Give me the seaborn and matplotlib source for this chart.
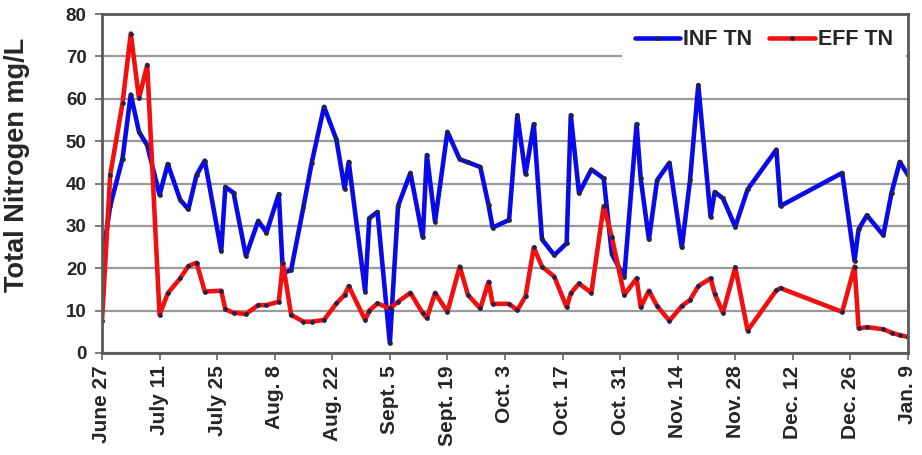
"""Total nitrogen, influent vs effluent, June 27 - Jan 9."""

import pandas as pd
import matplotlib
matplotlib.use("Agg")
import matplotlib.pyplot as plt
import seaborn as sns

sns.set_style("white")
plt.rcParams.update({
    'font.family': ['Liberation Sans', 'DejaVu Sans'],
    'font.weight': 'bold',
})

# days since June 27
days = [0, 2, 5, 7, 9, 11, 14, 16, 19, 21, 23, 25, 29, 30, 32, 35, 38, 40,
        43, 44, 46, 49, 51, 54, 57, 59, 60, 64, 65, 67, 70, 72, 75, 78, 79,
        81, 84, 87, 89, 92, 94, 95, 99, 101, 103, 105, 107, 110, 113, 114,
        116, 119, 122, 124, 127, 130, 131, 133, 135, 138, 141, 143, 145, 148,
        149, 151, 154, 157, 164, 165, 180, 183, 184, 186, 190, 192, 194, 196]

inf_tn = [21.5, 34.7, 45.9, 61.0, 52.2, 49.0, 37.3, 44.6, 36.2, 33.9, 42.0,
          45.4, 24.1, 39.2, 37.8, 22.9, 31.2, 28.4, 37.5, 18.8, 19.6, 34.5,
          44.9, 58.1, 50.4, 38.8, 45.1, 14.5, 31.8, 33.3, 2.3, 34.7, 42.5,
          27.3, 46.7, 31.0, 52.2, 45.7, 45.0, 43.9, 34.9, 29.6, 31.4, 56.1,
          42.2, 54.0, 26.8, 23.1, 25.9, 56.1, 37.7, 43.3, 41.2, 23.3, 17.9,
          54.0, 41.2, 26.8, 40.8, 44.9, 24.9, 40.8, 63.2, 32.1, 38.0, 36.5,
          29.8, 38.6, 48.0, 34.7, 42.5, 21.8, 29.2, 32.5, 27.8, 37.8, 45.1,
          42.0]

eff_tn = [7.5, 42.0, 59.0, 75.4, 60.1, 68.0, 9.0, 14.1, 17.6, 20.5, 21.3,
          14.5, 14.7, 10.3, 9.5, 9.2, 11.3, 11.3, 12.1, 21.2, 9.0, 7.4, 7.4,
          7.8, 11.7, 13.7, 15.8, 7.8, 10.0, 11.7, 10.5, 12.1, 14.2, 9.4, 8.2,
          14.2, 9.7, 20.4, 13.7, 10.5, 16.8, 11.6, 11.6, 10.1, 13.4, 24.9,
          20.4, 18.0, 10.8, 14.1, 16.4, 14.2, 34.7, 27.3, 13.7, 17.6, 10.8,
          14.7, 11.1, 7.6, 11.1, 12.5, 15.8, 17.6, 14.0, 9.5, 20.2, 5.3, 14.8,
          15.3, 9.7, 20.4, 5.8, 6.1, 5.6, 4.8, 4.2, 3.8]

tick_days = list(range(0, 197, 14))
tick_labels = ['June 27', 'July 11', 'July 25', 'Aug. 8', 'Aug. 22',
               'Sept. 5', 'Sept. 19', 'Oct. 3', 'Oct. 17', 'Oct. 31',
               'Nov. 14', 'Nov. 28', 'Dec. 12', 'Dec. 26', 'Jan. 9']

df = pd.DataFrame({'day': days, 'INF TN': inf_tn, 'EFF TN': eff_tn})

fig = plt.figure(figsize=(9.22, 4.55), dpi=100)
ax = fig.add_axes([0.1106, 0.2242, 0.8742, 0.745])

marker_kw = dict(marker='o', markersize=3.4, markeredgewidth=0,
                 markerfacecolor='#22224a')
sns.lineplot(data=df, x='day', y='INF TN', ax=ax, color='#0a0ae6',
             linewidth=3.3, label='INF TN', **marker_kw)
sns.lineplot(data=df, x='day', y='EFF TN', ax=ax, color='#f01010',
             linewidth=3.3, label='EFF TN', **marker_kw)

ax.set_xlim(0, 196)
ax.set_ylim(0, 80)
ax.set_yticks(range(0, 81, 10))
ax.set_xticks(tick_days)
ax.set_xticklabels(tick_labels, rotation=90, fontsize=15, fontweight='bold')
ax.tick_params(axis='y', labelsize=13.5, left=True, length=5, width=1.2,
               color='#666666', pad=6)
ax.tick_params(axis='x', bottom=True, length=5, width=1.2,
               color='#666666', pad=4)
for lab in ax.get_yticklabels():
    lab.set_fontweight('bold')

ax.yaxis.grid(True, color='#9a9a9a', linewidth=1.6)
ax.set_axisbelow(True)
for sp in ax.spines.values():
    sp.set_color('#5a5a5a')
    sp.set_linewidth(2.0)

ax.set_xlabel('')
ax.set_ylabel('Total Nitrogen mg/L', fontsize=19.5, fontweight='bold')
ax.yaxis.set_label_coords(-0.089, 0.555)

leg = ax.legend(loc='upper right', ncol=2, fontsize=15.5, frameon=True,
                handlelength=2.1, handletextpad=0.15, columnspacing=0.8,
                borderpad=0.6, borderaxespad=0.1)
leg.get_frame().set_facecolor('white')
leg.get_frame().set_edgecolor('none')
leg.get_frame().set_alpha(1)
for t in leg.get_texts():
    t.set_fontweight('bold')

plt.savefig('out.png', dpi=100)
plt.close()
